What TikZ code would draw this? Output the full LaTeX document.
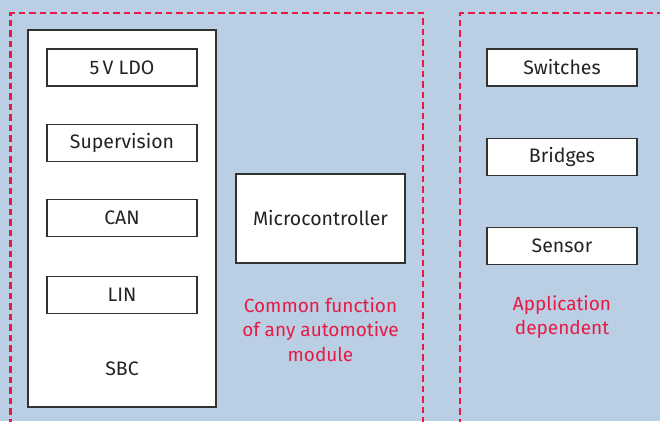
\documentclass[tikz,border=0pt]{standalone}
\usepackage{fontspec}
\setmainfont{Fira Sans}
\begin{document}
\begin{tikzpicture}[x=1pt,y=-1pt,
  bg/.style={fill={rgb,255:red,186;green,207;blue,227}},
  frame/.style={draw={rgb,255:red,232;green,25;blue,70},line width=2.8pt,dash pattern=on 6.5pt off 4pt},
  blk/.style={draw={rgb,255:red,50;green,50;blue,50},fill=white,line width=1.1pt,inner sep=0pt,font=\fontsize{19.5}{23}\selectfont,text={rgb,255:red,35;green,35;blue,35}},
  redtxt/.style={align=center,font=\fontsize{19}{24.5}\selectfont,text={rgb,255:red,232;green,25;blue,70}}
]
\useasboundingbox (0,0) rectangle (660,421);
\fill[bg] (0,0) rectangle (660,421);
\draw[frame] (10.5,425) -- (10.5,13) -- (423,13) -- (423,425);
\draw[frame] (460,425) -- (460,13) -- (665,13);
% SBC
\node[blk,minimum width=188pt,minimum height=377pt] (sbc) at (122,218.5) {};
\node[font=\fontsize{19.5}{23}\selectfont,text={rgb,255:red,35;green,35;blue,35}] (sbctxt) at (122,369) {SBC};
\node[blk,minimum width=150pt,minimum height=37pt] (ldo) at (122,67.5) {5\,V LDO};
\node[blk,minimum width=150pt,minimum height=37pt] (sup) at (122,143) {Supervision};
\node[blk,minimum width=150pt,minimum height=37pt] (can) at (122,218) {CAN};
\node[blk,minimum width=150pt,minimum height=37pt] (lin) at (122,295) {LIN};
% Microcontroller
\node[blk,minimum width=169pt,minimum height=89pt] (mcu) at (320.5,218.5) {Microcontroller};
\node[redtxt] (common) at (320.5,329.5) {Common function\\of any automotive\\module};
% Right
\node[blk,minimum width=150pt,minimum height=37pt] (sw) at (562,67.5) {Switches};
\node[blk,minimum width=150pt,minimum height=37pt] (br) at (562,157) {Bridges};
\node[blk,minimum width=150pt,minimum height=37pt] (se) at (562,246) {Sensor};
\node[redtxt] (app) at (562,317) {Application\\dependent};
\end{tikzpicture}
\end{document}
